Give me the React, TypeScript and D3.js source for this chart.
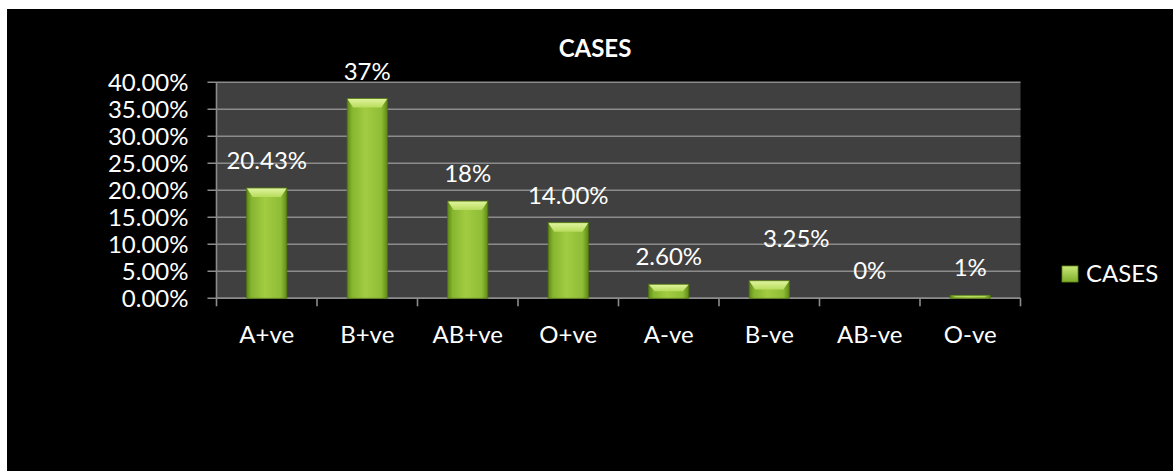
import React from "react";
import * as d3 from "d3";

const categories = ["A+ve", "B+ve", "AB+ve", "O+ve", "A-ve", "B-ve", "AB-ve", "O-ve"];
const values = [0.2043, 0.37, 0.18, 0.14, 0.026, 0.0325, 0, 0.0055];
const valueLabels = ["20.43%", "37%", "18%", "14.00%", "2.60%", "3.25%", "0%", "1%"];
const yTicks = [0, 0.05, 0.1, 0.15, 0.2, 0.25, 0.3, 0.35, 0.4];
const seriesName = "CASES";
const title = "CASES";

const W = 1173;
const H = 471;
const plot = { left: 216.5, right: 1020.5, top: 82.3, bottom: 298.3 };
const FONT = "Lato, 'Open Sans', sans-serif";

export default function App() {
  const x = d3
    .scaleBand<string>()
    .domain(categories)
    .range([plot.left, plot.right])
    .paddingInner(0.6)
    .paddingOuter(0.3);
  const xBand = d3.scaleBand<string>().domain(categories).range([plot.left, plot.right]);
  const y = d3.scaleLinear().domain([0, 0.4]).range([plot.bottom, plot.top]);
  const fmt = d3.format(".2%");
  const bw = x.bandwidth();
  const bevel = 9;

  // manual nudge for the moved label (B-ve)
  const nudge = (i: number) => (categories[i] === "B-ve" ? { dx: 27, dy: -15 } : { dx: 0, dy: 0 });

  const boundaries = categories.map((c) => xBand(c)!).concat([plot.right]);

  return (
    <svg
      width={W}
      height={H}
      style={{ position: "absolute", left: 0, top: 0, display: "block" }}
      fontFamily={FONT}
    >
      <defs>
        <linearGradient id="barBody" x1="0" x2="1" y1="0" y2="0">
          <stop offset="0%" stopColor="#5f8a16" />
          <stop offset="12%" stopColor="#86b52f" />
          <stop offset="45%" stopColor="#a2cc42" />
          <stop offset="85%" stopColor="#8fbd36" />
          <stop offset="100%" stopColor="#5f8a16" />
        </linearGradient>
        <linearGradient id="barTop" x1="0" x2="0" y1="0" y2="1">
          <stop offset="0%" stopColor="#e2f5a0" />
          <stop offset="100%" stopColor="#b7dc5c" />
        </linearGradient>
        <linearGradient id="legendGrad" x1="0" x2="0" y1="0" y2="1">
          <stop offset="0%" stopColor="#c9e878" />
          <stop offset="100%" stopColor="#7fae2a" />
        </linearGradient>
      </defs>
      <rect x={0} y={0} width={W} height={H} fill="#ffffff" />
      <rect x={7} y={9} width={W - 7} height={H - 9} fill="#000000" />

      {/* plot area */}
      <rect
        x={plot.left}
        y={plot.top}
        width={plot.right - plot.left}
        height={plot.bottom - plot.top}
        fill="#404040"
      />

      {/* gridlines + y ticks */}
      {yTicks.map((t) => (
        <g key={t}>
          <line
            x1={plot.left - 9}
            x2={plot.right}
            y1={y(t)}
            y2={y(t)}
            stroke="#8c8c8c"
            strokeWidth={1.6}
          />
          <text
            x={188.5}
            y={y(t)}
            dy="0.35em"
            textAnchor="end"
            fill="#ffffff"
            fontSize={24}
          >
            {fmt(t)}
          </text>
        </g>
      ))}

      {/* axes */}
      <line x1={plot.left} x2={plot.left} y1={plot.top} y2={plot.bottom} stroke="#8c8c8c" strokeWidth={1.6} />
      <line x1={plot.left} x2={plot.right} y1={plot.bottom} y2={plot.bottom} stroke="#8c8c8c" strokeWidth={1.6} />
      {boundaries.map((b, i) => (
        <line key={i} x1={b} x2={b} y1={plot.bottom} y2={plot.bottom + 8} stroke="#8c8c8c" strokeWidth={1.6} />
      ))}

      {/* bars */}
      {categories.map((c, i) => {
        const v = values[i];
        if (v <= 0) return null;
        const x0 = x(c)!;
        const top = y(v);
        const h = plot.bottom - top;
        const bv = Math.min(bevel, h * 0.5);
        const inset = Math.min(6, bw * 0.15);
        return (
          <g key={c}>
            <rect x={x0} y={top} width={bw} height={h} fill="url(#barBody)" />
            <path
              d={`M${x0},${top} L${x0 + bw},${top} L${x0 + bw - inset},${top + bv} L${x0 + inset},${top + bv} Z`}
              fill="url(#barTop)"
            />
            <rect x={x0} y={top} width={bw} height={h} fill="none" stroke="#4f7410" strokeWidth={0.8} />
          </g>
        );
      })}

      {/* data labels */}
      {categories.map((c, i) => {
        const n = nudge(i);
        return (
          <text
            key={c}
            x={xBand(c)! + xBand.bandwidth() / 2 + n.dx}
            y={y(values[i]) - 19 + n.dy}
            textAnchor="middle"
            fill="#ffffff"
            fontSize={24}
          >
            {valueLabels[i]}
          </text>
        );
      })}

      {/* category labels */}
      {categories.map((c) => (
        <text
          key={c}
          x={xBand(c)! + xBand.bandwidth() / 2}
          y={343.3}
          textAnchor="middle"
          fill="#ffffff"
          fontSize={24}
        >
          {c}
        </text>
      ))}

      {/* title */}
      <text x={595} y={56.7} textAnchor="middle" fill="#ffffff" fontSize={24} fontWeight="bold">
        {title}
      </text>

      {/* legend */}
      <rect x={1062} y={266} width={16} height={16} fill="url(#legendGrad)" stroke="#5f8a16" strokeWidth={0.8} />
      <text x={1086} y={281.7} fill="#ffffff" fontSize={24}>
        {seriesName}
      </text>
    </svg>
  );
}
